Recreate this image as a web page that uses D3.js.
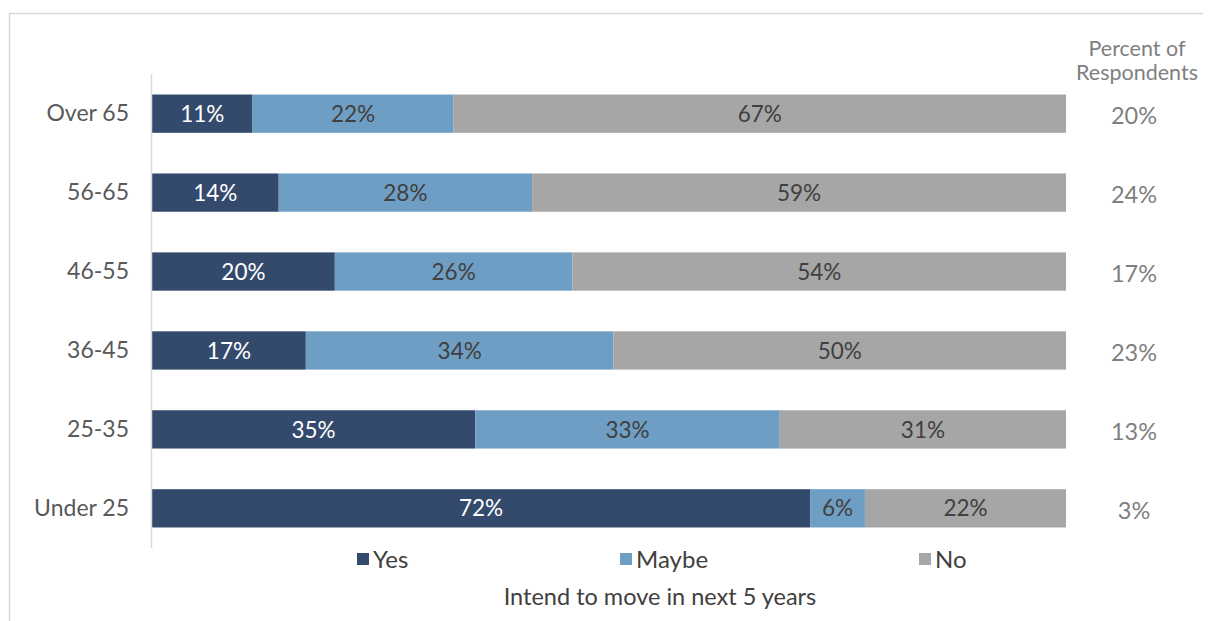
<!DOCTYPE html>
<html><head><meta charset="utf-8">
<script src="https://cdn.jsdelivr.net/npm/d3@7/dist/d3.min.js"></script>
<style>body{margin:0;background:#fff;}svg{display:block;font-family:Lato, "Open Sans", sans-serif;}</style>
</head><body><svg id="c" width="1213" height="621"></svg>
<script>
const categories = ["Over 65","56-65","46-55","36-45","25-35","Under 25"];
const yesVals   = [11,14,20,17,35,72];
const maybeVals = [22,28,26,34,33,6];
const noVals    = [67,59,54,50,31,22];
const respondents = ["20%","24%","17%","23%","13%","3%"];
const seriesNames = ["Yes","Maybe","No"];
const colors = ["#344a6c","#6f9ec4","#a6a6a6"];
const labelColors = ["#ffffff","#404040","#404040"];

const svg = d3.select("#c");
// frame
svg.append("path").attr("d","M9.5,621 V13.5 H1203").attr("fill","none").attr("stroke","#d9d9d9").attr("stroke-width",1.5);

const x0 = 152, x1 = 1066;
const y = d3.scaleBand().domain(categories).range([74, 548]).paddingInner(0.515).paddingOuter(0.26);
const x = d3.scaleLinear().domain([0,1]).range([x0,x1]);

const rows = categories.map((c,i)=>({cat:c, vals:[yesVals[i],maybeVals[i],noVals[i]]}));
rows.forEach(r=>{
  const tot = d3.sum(r.vals); let acc=0;
  r.segs = r.vals.map((v,k)=>{const s={k, v, a:acc/tot, b:(acc+v)/tot}; acc+=v; return s;});
});

const g = svg.append("g");
rows.forEach(r=>{
  const row = g.append("g");
  row.selectAll("rect").data(r.segs).enter().append("rect")
    .attr("x",d=>x(d.a)).attr("width",d=>x(d.b)-x(d.a))
    .attr("y",y(r.cat)).attr("height",y.bandwidth())
    .attr("fill",d=>colors[d.k]);
  row.selectAll("text").data(r.segs).enter().append("text")
    .attr("x",d=>(x(d.a)+x(d.b))/2).attr("y",y(r.cat)+y.bandwidth()/2)
    .attr("dy","0.36em").attr("text-anchor","middle")
    .attr("font-size",22.5).attr("fill",d=>labelColors[d.k])
    .text(d=>d.v+"%");
});

// y axis
const yAxis = d3.axisLeft(y).tickSize(0).tickPadding(23);
const ya = svg.append("g").attr("transform",`translate(${x0},0)`).call(yAxis);
ya.select(".domain").remove();
ya.selectAll("text").attr("font-size",23).attr("fill","#595959").attr("font-family","Lato, sans-serif").attr("dy","0.34em");
svg.append("line").attr("x1",x0-0.5).attr("x2",x0-0.5).attr("y1",74).attr("y2",548).attr("stroke","#d9d9d9").attr("stroke-width",1.5);

// respondents column
svg.append("text").attr("x",1137).attr("y",56).attr("text-anchor","middle").attr("font-size",21.5).attr("fill","#7f7f7f").text("Percent of");
svg.append("text").attr("x",1137).attr("y",80).attr("text-anchor","middle").attr("font-size",21.5).attr("fill","#7f7f7f").text("Respondents");
svg.selectAll(".resp").data(categories).enter().append("text").attr("class","resp")
  .attr("x",1134).attr("y",c=>y(c)+y.bandwidth()/2+2).attr("dy","0.36em")
  .attr("text-anchor","middle").attr("font-size",23.5).attr("fill","#7f7f7f")
  .text((c,i)=>respondents[i]);

// legend
const legX = [357, 620, 919];
const leg = svg.selectAll(".leg").data(seriesNames).enter().append("g").attr("class","leg")
  .attr("transform",(d,i)=>`translate(${legX[i]},559)`);
leg.append("rect").attr("x",0).attr("y",-6).attr("width",12).attr("height",12).attr("fill",(d,i)=>colors[i]);
leg.append("text").attr("x",16).attr("dy","0.36em").attr("font-size",24).attr("fill","#404040").text(d=>d);

svg.append("text").attr("x",660).attr("y",605).attr("text-anchor","middle")
  .attr("font-size",23.5).attr("fill","#404040").text("Intend to move in next 5 years");
</script></body></html>
